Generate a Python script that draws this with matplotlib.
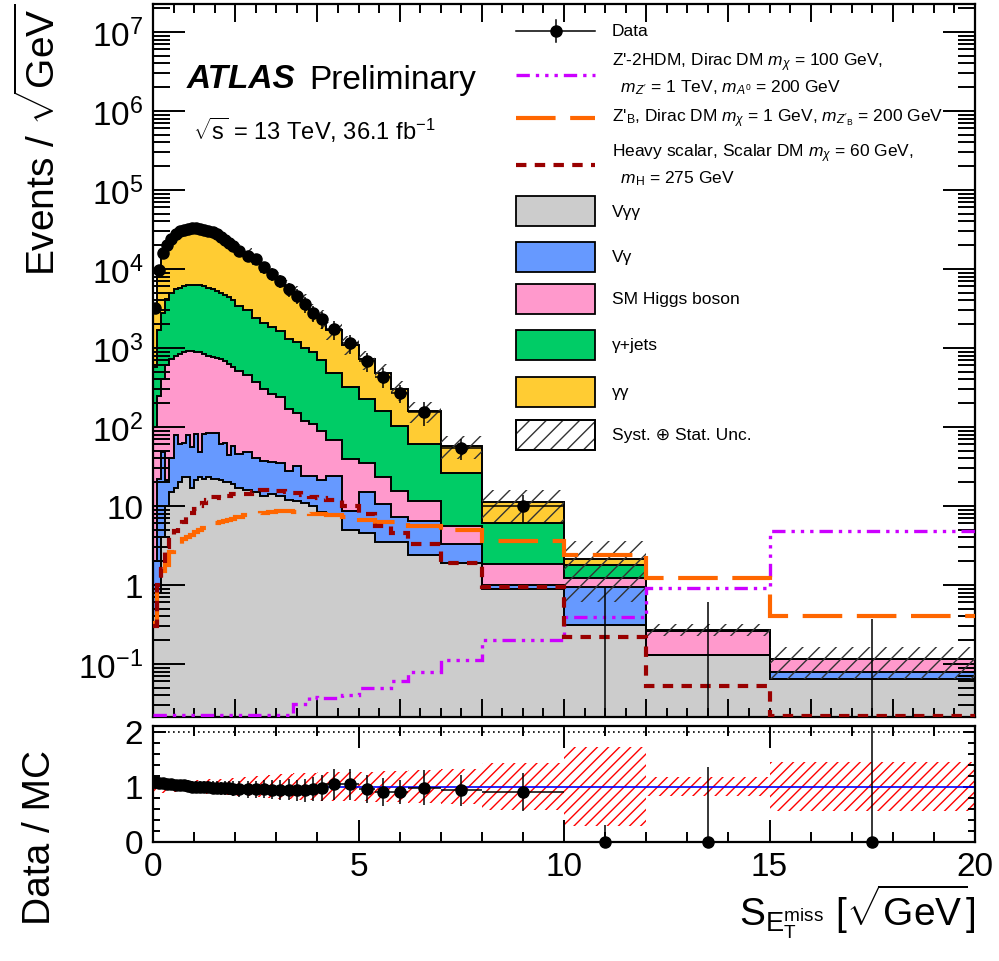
import numpy as np
import matplotlib
matplotlib.use("Agg")
import matplotlib.pyplot as plt
from matplotlib.patches import Rectangle
from matplotlib.lines import Line2D
from matplotlib.ticker import MultipleLocator, LogLocator, FuncFormatter, NullFormatter, FixedLocator

plt.rcParams['font.family'] = ['Liberation Sans', 'DejaVu Sans']
plt.rcParams['mathtext.fontset'] = 'custom'
plt.rcParams['mathtext.rm'] = 'Liberation Sans'
plt.rcParams['mathtext.it'] = 'Liberation Sans:italic'
plt.rcParams['mathtext.bf'] = 'Liberation Sans:bold'
plt.rcParams['mathtext.sf'] = 'Liberation Sans'
plt.rcParams['hatch.linewidth'] = 1.0

# ---------------- data ----------------
edges = np.array([0.0, 0.1, 0.2, 0.3, 0.4, 0.5, 0.6, 0.7, 0.8, 0.9, 1.0,
                  1.1, 1.2, 1.3, 1.4, 1.5, 1.6, 1.7, 1.8, 1.9, 2.0,
                  2.2, 2.4, 2.6, 2.8, 3.0, 3.2, 3.4, 3.6, 3.8, 4.0, 4.2,
                  4.6, 5.0, 5.4, 5.8, 6.2,
                  7.0, 8.0, 10.0, 12.0, 15.0, 20.0])

# cumulative stack tops (Events / sqrt(GeV))
top_vyy = np.array([0.4, 0.8, 4, 10, 15, 17, 20, 23, 23, 17,
                    21, 23, 22, 23, 22, 22, 21, 20, 20, 19,
                    17, 16, 15, 13.5, 14, 13.5, 12, 11.5, 11, 10, 8.5,
                    7.6, 4.9, 4.5, 3.5, 3.5,
                    2.4, 1.9, 0.88, 0.31, 0.13, 0.065])
top_vy = np.array([2, 22, 48, 21, 40, 78, 60, 62, 78, 55,
                   81, 48, 81, 85, 85, 85, 60, 62, 44, 58,
                   46, 48, 40, 37, 36, 35, 28, 32, 24, 24, 21,
                   24, 8.7, 15, 10.7, 7.2,
                   6.5, 3.3, 1.0, 0.93, 0.13, 0.08])
top_higgs = np.array([100, 250, 410, 600, 730, 780, 840, 880, 920, 925,
                      900, 880, 850, 800, 770, 740, 720, 680, 630, 580,
                      515, 450, 370, 300, 260, 240, 170, 150, 120, 110, 90,
                      69, 39, 35, 23, 15.5,
                      11.7, 5.5, 1.85, 1.23, 0.26, 0.115])
top_gjets = np.array([575, 1700, 2800, 4200, 5000, 5500, 5800, 6100, 6300, 6300,
                      6300, 6200, 6000, 5800, 5500, 5300, 5000, 4700, 4400, 4100,
                      3400, 3000, 2400, 2100, 1850, 1650, 1300, 1180, 1000, 890, 700,
                      480, 325, 225, 158, 104,
                      60, 26, 6.0, 1.78, 0.265, 0.115])
top_yy = np.array([2960, 9160, 15100, 19050, 23080, 26700, 29400, 30900, 32200, 33000,
                   33000, 32500, 31800, 30800, 29600, 28100, 26300, 24200, 22200, 20300,
                   17700, 15500, 13900, 11050, 9250, 7550, 5960, 4950, 3870, 2920, 2370,
                   1680, 1105, 716, 483, 300,
                   158, 58, 11.1, 2.1, 0.27, 0.115])

data = np.array([3200, 9800, 16000, 20000, 24000, 27500, 30000, 31500, 32500, 33000,
                 33000, 32500, 31500, 30500, 29000, 27500, 25500, 23500, 21500, 19500,
                 17000, 14700, 13200, 10500, 8700, 7100, 5600, 4600, 3600, 2800, 2300,
                 1750, 1150, 680, 435, 270,
                 155, 54, 10, 0, 0, 0])
data_relerr = np.array([0.12, 0.10, 0.09, 0.09, 0.09, 0.09, 0.09, 0.09, 0.10, 0.10,
                        0.10, 0.10, 0.11, 0.11, 0.12, 0.12, 0.12, 0.13, 0.13, 0.14,
                        0.15, 0.16, 0.16, 0.17, 0.18, 0.19, 0.20, 0.21, 0.22, 0.23, 0.24,
                        0.27, 0.27, 0.27, 0.29, 0.25,
                        0.33, 0.30, 0.38, 0, 0, 0])
zero_up_main = np.array([0.93, 0.61, 0.37])
zero_up_ratio = np.array([0.30, 1.36, 2.5])

unc_rel = np.array([0.12, 0.12, 0.11, 0.10, 0.10, 0.10, 0.10, 0.10, 0.10, 0.11,
                    0.11, 0.12, 0.12, 0.13, 0.13, 0.14, 0.14, 0.15, 0.15, 0.16,
                    0.17, 0.18, 0.19, 0.20, 0.21, 0.22, 0.23, 0.24, 0.25, 0.25, 0.26,
                    0.26, 0.27, 0.27, 0.28, 0.28,
                    0.30, 0.32, 0.43, 0.71, 0.17, 0.44])

sig_2hdm = np.array([0.0225] * 27 + [0.031, 0.031, 0.038, 0.037,
                     0.037, 0.040, 0.049, 0.049, 0.060,
                     0.080, 0.112, 0.20, 0.39, 0.91, 4.8])
sig_zpb = np.array([0.33, 1.1, 1.5, 1.8, 2.6, 2.9, 3.1, 3.8, 4.0, 4.3,
                    4.7, 4.9, 5.2, 5.7, 5.8, 6.0, 6.3, 6.5, 6.6, 6.9,
                    7.2, 7.6, 7.9, 8.2, 8.4, 8.6, 8.6, 8.4, 8.2, 8.0, 7.9,
                    7.6, 7.2, 6.6, 6.2, 6.2,
                    5.6, 4.9, 3.6, 2.4, 1.23, 0.41])
sig_hs = np.array([0.3, 1.0, 1.6, 3.0, 4.2, 4.8, 5.6, 6.3, 7.3, 8.2,
                   9.1, 10, 11, 12, 12.8, 13, 12.5, 12.8, 13.5, 14,
                   14, 14, 15, 16, 15.7, 15.5, 15, 14.5, 13.8, 13, 12.6,
                   12, 10, 8, 5.5, 4.5,
                   3.3, 1.9, 0.95, 0.22, 0.052, 0.0222])

# ---------------- figure ----------------
W, H = 999, 962
fig = plt.figure(figsize=(W / 100, H / 100), dpi=100)


def box(l, t, r, b):
    return [l / W, 1 - b / H, (r - l) / W, (b - t) / H]


ax = fig.add_axes(box(153, 5, 975, 718))
axr = fig.add_axes(box(153, 727, 975, 842.5))

YMIN, YMAX = 0.0213, 2.26e7
centers = 0.5 * (edges[1:] + edges[:-1])
halfw = 0.5 * np.diff(edges)

colors = {'vyy': '#cccccc', 'vy': '#6699ff', 'higgs': '#ff99cc', 'gjets': '#00cc66', 'yy': '#ffcc33'}
layers = [(top_vyy, colors['vyy']), (top_vy, colors['vy']), (top_higgs, colors['higgs']),
          (top_gjets, colors['gjets']), (top_yy, colors['yy'])]
base = np.full(len(top_vyy), 1e-4)
for top, col in layers:
    ax.stairs(top, edges, baseline=base, fill=True, facecolor=col, edgecolor='none', lw=0, zorder=1)
    base = top
for top, col in layers:
    ax.stairs(top, edges, baseline=None, color='black', lw=1.4, zorder=2)

# uncertainty band
ax.stairs(top_yy * (1 + unc_rel), edges, baseline=top_yy * (1 - unc_rel), fill=True,
          facecolor='none', edgecolor='#333333', hatch='//', lw=0, zorder=3)

# signals
ls_2hdm = (0, (4, 1.8, 1, 1.8, 1, 1.8, 1, 1.8))
ls_zpb = (0, (9.5, 3.5))
ls_hs = (0, (2.5, 2.0))
ax.stairs(sig_2hdm, edges, baseline=None, color='#cc00ff', lw=2.4, linestyle=ls_2hdm, zorder=4)
ax.stairs(sig_zpb, edges, baseline=None, color='#ff6600', lw=3.0, linestyle=ls_zpb, zorder=4)
ax.stairs(sig_hs, edges, baseline=None, color='#990000', lw=3.0, linestyle=ls_hs, zorder=4)

# data
nz = data > 0
ax.errorbar(centers[nz], data[nz], yerr=data[nz] * data_relerr[nz], xerr=halfw[nz],
            fmt='o', color='black', ms=8, lw=1.1, capsize=0, zorder=6)
ax.vlines(centers[~nz], YMIN, zero_up_main, color='black', lw=1.1, zorder=6)

ax.set_yscale('log')
ax.set_xlim(0, 20)
ax.set_ylim(YMIN, YMAX)
ax.xaxis.set_major_locator(MultipleLocator(2))
ax.xaxis.set_minor_locator(MultipleLocator(0.5))
ax.yaxis.set_major_locator(LogLocator(base=10, numticks=30))
ax.yaxis.set_minor_locator(LogLocator(base=10, subs=np.arange(2, 10), numticks=30))


def logfmt(v, p):
    e = int(round(np.log10(v)))
    if e == 0:
        return '1'
    if e == 1:
        return '10'
    return r'$10^{%d}$' % e


ax.yaxis.set_major_formatter(FuncFormatter(logfmt))
ax.yaxis.set_minor_formatter(NullFormatter())
ax.tick_params(axis='x', which='both', direction='in', top=True, bottom=True, labelbottom=False, width=1.4)
ax.tick_params(axis='x', which='major', length=13)
ax.tick_params(axis='x', which='minor', length=6.5)
ax.tick_params(axis='y', which='both', direction='in', left=True, right=True, width=1.4, labelsize=24, pad=7)
ax.tick_params(axis='y', which='major', length=23)
ax.tick_params(axis='y', which='minor', length=12)
for s in ax.spines.values():
    s.set_linewidth(1.6)

# ---------------- ratio ----------------
ratio = data / top_yy
rerr = data * data_relerr / top_yy
axr.stairs(1 + unc_rel, edges, baseline=1 - unc_rel, fill=True, facecolor='none',
           edgecolor='#ff0000', hatch='///', lw=0, zorder=1)
axr.axhline(1, color='#0000ff', lw=1.2, zorder=2)
axr.axhline(2, color='black', lw=1.2, ls=(0, (1, 2)), zorder=2)
axr.errorbar(centers[nz], ratio[nz], yerr=rerr[nz], xerr=halfw[nz], fmt='o', color='black',
             ms=8, lw=1.1, capsize=0, zorder=5)
axr.vlines(centers[~nz], 0, zero_up_ratio, color='black', lw=1.1, zorder=5)
axr.plot(centers[~nz], np.zeros((~nz).sum()), 'o', color='black', ms=8, clip_on=False, zorder=6)
axr.set_xlim(0, 20)
axr.set_ylim(0, 2.1)
axr.xaxis.set_major_locator(MultipleLocator(5))
axr.xaxis.set_minor_locator(MultipleLocator(1))
axr.yaxis.set_major_locator(FixedLocator([0, 1, 2]))
axr.yaxis.set_minor_locator(MultipleLocator(0.2))
axr.tick_params(axis='both', which='both', direction='in', top=True, right=True, width=1.4)
axr.tick_params(axis='x', which='major', length=16, labelsize=24, pad=7)
axr.tick_params(axis='x', which='minor', length=7)
axr.tick_params(axis='y', which='major', length=9, labelsize=24, pad=7)
axr.tick_params(axis='y', which='minor', length=5)
for s in axr.spines.values():
    s.set_linewidth(1.6)


# ---------------- texts ----------------
def ftext(x, y, s, **kw):
    fig.text(x / W, 1 - y / H, s, **kw)


ftext(40, 140, r'Events / $\sqrt{\mathrm{GeV}}$', rotation=90, ha='center', va='center', fontsize=28)
ftext(40, 838, 'Data / MC', rotation=90, ha='center', va='center', fontsize=28)
ftext(975, 912, r'$\mathrm{S}_{\mathrm{E}_{\mathrm{T}}^{\mathrm{miss}}}$ [$\sqrt{\mathrm{GeV}}$]',
      ha='right', va='center', fontsize=28)
ftext(187, 80, 'ATLAS', fontsize=24, fontweight='bold', fontstyle='italic', ha='left', va='center')
ftext(309, 80, 'Preliminary', fontsize=24, ha='left', va='center')
ftext(193, 130, r'$\sqrt{\mathrm{s}}$ = 13 TeV, 36.1 fb$^{-1}$', fontsize=17, ha='left', va='center')

# ---------------- legend (pixel overlay) ----------------
lg = fig.add_axes([0, 0, 1, 1], zorder=10)
lg.set_xlim(0, W)
lg.set_ylim(H, 0)
lg.axis('off')
LX0, LX1, TX = 516, 595, 612
FS = 12.5
lg.add_line(Line2D([LX0, LX1], [32, 32], color='black', lw=1.1))
lg.add_line(Line2D([555.5, 555.5], [21, 43], color='black', lw=1.1))
lg.plot([555.5], [32], 'o', color='black', ms=8)
lg.text(TX, 32, 'Data', fontsize=FS, va='center')

lg.add_line(Line2D([LX0, LX1], [76, 76], color='#cc00ff', lw=2.4, linestyle=ls_2hdm))
lg.text(TX, 63, r"Z'-2HDM, Dirac DM $m_{\chi}$ = 100 GeV,", fontsize=FS, va='center')
lg.text(TX + 4, 88, r" $m_{Z'}$ = 1 TeV, $m_{A^{0}}$ = 200 GeV", fontsize=FS, va='center')

lg.add_line(Line2D([LX0, LX1], [119, 119], color='#ff6600', lw=3.0, linestyle=ls_zpb))
lg.text(TX, 119, r"Z'$_{\mathrm{B}}$, Dirac DM $m_{\chi}$ = 1 GeV, $m_{Z'_{\mathrm{B}}}$ = 200 GeV",
        fontsize=FS, va='center')

lg.add_line(Line2D([LX0, LX1], [166, 166], color='#990000', lw=3.0, linestyle=ls_hs))
lg.text(TX, 154, r"Heavy scalar, Scalar DM $m_{\chi}$ = 60 GeV,", fontsize=FS, va='center')
lg.text(TX + 4, 179, r" $m_{\mathrm{H}}$ = 275 GeV", fontsize=FS, va='center')

boxes = [(212, colors['vyy'], 'Vγγ'), (258, colors['vy'], 'Vγ'), (300, colors['higgs'], 'SM Higgs boson'),
         (346, colors['gjets'], 'γ+jets'), (393, colors['yy'], 'γγ')]
for yc, col, lab in boxes:
    lg.add_patch(Rectangle((LX0, yc - 15), LX1 - LX0, 30, facecolor=col, edgecolor='black', lw=1.3))
    lg.text(TX, yc, lab, fontsize=FS, va='center')
lg.add_patch(Rectangle((LX0, 421), LX1 - LX0, 30, facecolor='white', edgecolor='black', lw=1.3))
lg.add_patch(Rectangle((LX0, 421), LX1 - LX0, 30, facecolor='none', edgecolor='#333333', hatch='//', lw=0))
lg.add_patch(Rectangle((LX0, 421), LX1 - LX0, 30, facecolor='none', edgecolor='black', lw=1.3))
lg.text(TX, 436, 'Syst. ⊕ Stat. Unc.', fontsize=FS, va='center')

fig.savefig('out.png', dpi=100)
